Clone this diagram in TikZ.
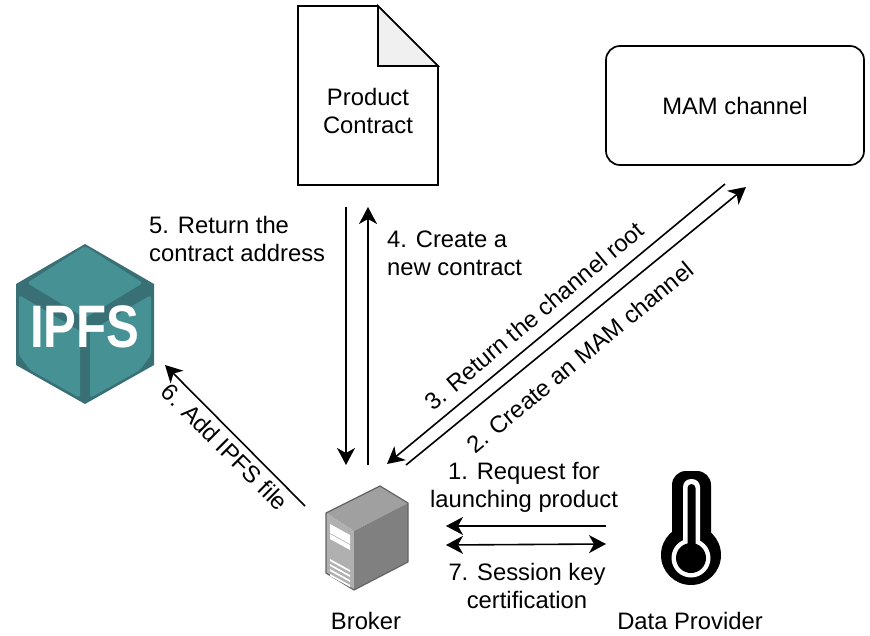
\documentclass[tikz,border=0pt]{standalone}
\usepackage{fontspec}
\usepackage{xcolor}
\usetikzlibrary{arrows.meta}
\setmainfont{Liberation Sans}
\definecolor{ipfsteal}{RGB}{70, 145, 148}
\definecolor{ipfsdark}{RGB}{56, 112, 118}
\definecolor{foldgray}{RGB}{240, 240, 240}
\definecolor{srvlight}{RGB}{176, 176, 176}
\definecolor{srvtop}{RGB}{160, 160, 160}
\definecolor{srvdark}{RGB}{128, 128, 128}
\definecolor{srvedge}{RGB}{100, 100, 100}
\tikzset{
  flow/.style={-{Stealth[length=17pt,width=18pt,inset=5pt]}, line width=1.6pt},
  flowboth/.style={{Stealth[length=17pt,width=18pt,inset=5pt]}-{Stealth[length=17pt,width=18pt,inset=5pt]}, line width=1.6pt},
  lbl/.style={font=\fontsize{23.8}{28}\selectfont, align=center, inner sep=1pt},
  lblleft/.style={font=\fontsize{23.8}{28}\selectfont, align=left, inner sep=0pt},
}
\begin{document}
\begin{tikzpicture}[x=1pt,y=-1pt]
\useasboundingbox (0,0) rectangle (870,636);

% Product contract
\draw[line width=1.7pt, fill=white] (298,6) -- (378,6) -- (438,66) -- (438,185) -- (298,185) -- cycle;
\draw[line width=1.7pt, fill=foldgray] (378,6) -- (438,66) -- (378,66) -- cycle;
\node[lbl] (contract) at (368,111) {Product\\Contract};

% MAM channel
\node[draw, line width=1.7pt, rounded corners=14pt, minimum width=258pt, minimum height=119pt, lbl] (mam) at (735,105.5) {MAM channel};

% IPFS logo
\fill[ipfsdark] (85,244) -- (154,284) -- (154,365) -- (85,404) -- (16,365) -- (16,284) -- cycle;
\fill[ipfsteal, rounded corners=3pt] (85,246) -- (143,283) -- (85,318) -- (27,283) -- cycle;
\fill[ipfsteal, rounded corners=3pt] (19,295) -- (80,331) -- (80,398) -- (30,370) -- (19,355) -- cycle;
\fill[ipfsteal, rounded corners=3pt] (151,295) -- (90,331) -- (90,398) -- (140,370) -- (151,355) -- cycle;
\node[font=\fontsize{60}{60}\bfseries\selectfont, text=white, xscale=0.82] (ipfs) at (85,327) {IPFS};

% Broker server
\fill[srvtop] (326,513) -- (380,486) -- (408,503) -- (354,531) -- cycle;
\fill[srvlight] (326,513) -- (354,531) -- (354,590) -- (326,573) -- cycle;
\fill[srvdark] (354,531) -- (408,503) -- (408,562) -- (354,590) -- cycle;
\draw[srvedge, line width=1.2pt, line join=round] (326,513) -- (380,486) -- (408,503) -- (408,562) -- (354,590) -- (326,573) -- cycle;
\fill[white] (330,524) -- (350,535) -- (350,544) -- (330,533) -- cycle;
\fill[white] (330,534) -- (350,545) -- (350,550) -- (330,539) -- cycle;
\foreach \i in {0,1,2,3}
  \fill[white] (330,559+\i*5) -- (350,570+\i*5) -- (350,572+\i*5) -- (330,561+\i*5) -- cycle;
\node[lbl] (broker) at (366,621) {Broker};

% Thermometer
\fill[black, rounded corners=14pt] (672,471) rectangle (711,560);
\fill[black] (691,555) circle[radius=30pt];
\fill[white, rounded corners=8pt] (683,479) rectangle (700,560);
\fill[white] (691,558) circle[radius=19.5pt];
\fill[black, rounded corners=4pt] (687.5,484) rectangle (695.5,560);
\fill[black] (691,558) circle[radius=15pt];
\node[lbl] (provider) at (690,621) {Data Provider};

% Arrow ends
\coordinate (a5s) at (346,207);
\coordinate (a5e) at (346,465);
\coordinate (a4s) at (368,465);
\coordinate (a4e) at (368,207);
\coordinate (a3s) at (725,184);
\coordinate (a3e) at (387,464);
\coordinate (a2s) at (406,465);
\coordinate (a2e) at (746,187);
\coordinate (a6s) at (305,506);
\coordinate (a6e) at (165,365);
\coordinate (a1s) at (606,526);
\coordinate (a1e) at (446,526);
\coordinate (a7s) at (446,545);
\coordinate (a7e) at (606,544);

\draw[flow] (a5s) -- (a5e);
\draw[flow] (a4s) -- (a4e);
\draw[flow] (a3s) -- (a3e);
\draw[flow] (a2s) -- (a2e);
\draw[flow] (a6s) -- (a6e);
\draw[flow] (a1s) -- (a1e);
\draw[flowboth] (a7s) -- (a7e);

% Labels
\node[lblleft, anchor=west] (l5) at (149,239) {5. Return the\\contract address};
\node[lblleft, anchor=west] (l4) at (387,253) {4. Create a\\new contract};
\node[lbl, rotate=40] (l3) at (534,316) {3. Return the channel root};
\node[lbl, rotate=39.5] (l2) at (580,357) {2. Create an MAM channel};
\node[lbl, rotate=-45] (l6) at (225,447) {6. Add IPFS file};
\node[lbl] (l1) at (524,487) {1. Request for\\launching product};
\node[lbl] (l7) at (527,586) {7. Session key\\certification};
\end{tikzpicture}
\end{document}
